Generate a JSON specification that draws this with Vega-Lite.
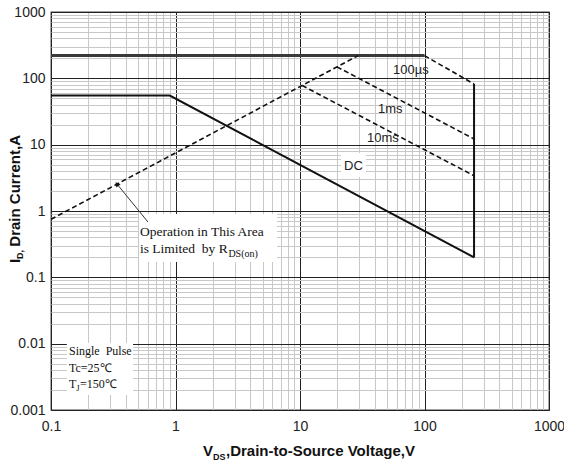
{
  "$schema": "https://vega.github.io/schema/vega-lite/v6.json",
  "width": 498,
  "height": 398,
  "autosize": {"type": "none"},
  "padding": {"left": 51, "top": 12, "right": 15, "bottom": 59},
  "background": "white",
  "config": {"view": {"stroke": "#444", "strokeWidth": 1.3}},
  "datasets": {
    "curves": [
      {"curve": "Current limit", "style": "limit", "v": 0.1, "i": 220},
      {"curve": "Current limit", "style": "limit", "v": 100, "i": 220},
      {"curve": "DC", "style": "solid", "v": 0.1, "i": 55},
      {"curve": "DC", "style": "solid", "v": 0.9, "i": 55},
      {"curve": "DC", "style": "solid", "v": 250, "i": 0.2},
      {"curve": "Voltage limit", "style": "solid", "v": 250, "i": 82},
      {"curve": "Voltage limit", "style": "solid", "v": 250, "i": 0.2},
      {"curve": "RDS(on)", "style": "dashed", "v": 0.1, "i": 0.75},
      {"curve": "RDS(on)", "style": "dashed", "v": 29.3, "i": 220},
      {"curve": "100µs", "style": "dashed", "v": 100, "i": 220},
      {"curve": "100µs", "style": "dashed", "v": 250, "i": 82},
      {"curve": "1ms", "style": "dashed", "v": 19.8, "i": 149},
      {"curve": "1ms", "style": "dashed", "v": 250, "i": 12.2},
      {"curve": "10ms", "style": "dashed", "v": 10.4, "i": 78},
      {"curve": "10ms", "style": "dashed", "v": 250, "i": 3.4}
    ],
    "boxes": [
      {"box": "note", "v": 0.509, "v2": 6.54, "i": 0.17, "i2": 0.901},
      {"box": "pulse", "v": 0.134, "v2": 0.456, "i": 0.00168, "i2": 0.01023},
      {"box": "DC", "v": 21.3, "v2": 33.9, "i": 3.25, "i2": 7.48}
    ],
    "arrow": [
      {"v": 0.601, "i": 0.682, "v2": 0.339, "i2": 2.55}
    ],
    "texts": [
      {"role": "curve", "text": "100µs", "v": 55.8, "i": 116},
      {"role": "curve", "text": "1ms", "v": 42.3, "i": 30.0},
      {"role": "curve", "text": "10ms", "v": 34.5, "i": 11.0},
      {"role": "curve", "text": "DC", "v": 22.6, "i": 4.15},
      {"role": "note", "text": "Operation in This Area", "v": 0.518, "i": 0.42},
      {"role": "note", "text": "is Limited\u00a0 by R", "v": 0.518, "i": 0.233},
      {"role": "noteSub", "text": "DS(on)", "v": 2.66, "i": 0.202},
      {"role": "pulse", "text": "Single\u00a0 Pulse", "v": 0.1395, "i": 0.00675},
      {"role": "pulse", "text": "Tc=25℃", "v": 0.1395, "i": 0.00374},
      {"role": "pulse", "text": "T", "v": 0.1395, "i": 0.00214},
      {"role": "pulseSub", "text": "J", "v": 0.1596, "i": 0.00193},
      {"role": "pulse", "text": "=150℃", "v": 0.171, "i": 0.00214},
      {"role": "xtitle", "text": "V", "v": 1.663, "i": 0.000202},
      {"role": "xtitleSub", "text": "DS", "v": 2.0, "i": 0.000176},
      {"role": "xtitle", "text": ",Drain-to-Source Voltage,V", "v": 2.545, "i": 0.000202},
      {"role": "ytitle", "text": "I", "v": 0.0564, "i": 0.164},
      {"role": "ytitleSub", "text": "D,", "v": 0.0596, "i": 0.189},
      {"role": "ytitle", "text": "Drain Current,A", "v": 0.0564, "i": 0.29}
    ]
  },
  "encoding": {
    "x": {
      "field": "v", "type": "quantitative",
      "scale": {"type": "log", "domain": [0.1, 1000], "nice": false},
      "axis": {
        "title": null,
        "values": [0.1,0.2,0.3,0.4,0.5,0.6,0.7,0.8,0.9,1,2,3,4,5,6,7,8,9,10,20,30,40,50,60,70,80,90,100,200,300,400,500,600,700,800,900,1000],
        "grid": true, "ticks": false, "domain": false,
        "gridColor": {"condition": {"test": "abs(log(datum.value)/LN10 - round(log(datum.value)/LN10)) < 0.001", "value": "#222"}, "value": "#c8c8c8"},
        "gridWidth": 1,
        "labelExpr": "abs(log(datum.value)/LN10 - round(log(datum.value)/LN10)) < 0.001 ? format(datum.value, '~g') : ''",
        "labelFont": "Liberation Sans", "labelFontSize": 14, "labelColor": "#222",
        "labelPadding": 9, "labelFlush": false, "labelOverlap": false
      }
    },
    "y": {
      "field": "i", "type": "quantitative",
      "scale": {"type": "log", "domain": [0.001, 1000], "nice": false},
      "axis": {
        "title": null,
        "values": [0.001,0.002,0.003,0.004,0.005,0.006,0.007,0.008,0.009,0.01,0.02,0.03,0.04,0.05,0.06,0.07,0.08,0.09,0.1,0.2,0.3,0.4,0.5,0.6,0.7,0.8,0.9,1,2,3,4,5,6,7,8,9,10,20,30,40,50,60,70,80,90,100,200,300,400,500,600,700,800,900,1000],
        "grid": true, "ticks": false, "domain": false,
        "gridColor": {"condition": {"test": "abs(log(datum.value)/LN10 - round(log(datum.value)/LN10)) < 0.001", "value": "#222"}, "value": "#c8c8c8"},
        "gridWidth": 1,
        "labelExpr": "abs(log(datum.value)/LN10 - round(log(datum.value)/LN10)) < 0.001 ? format(datum.value, '~g') : ''",
        "labelFont": "Liberation Sans", "labelFontSize": 14, "labelColor": "#222",
        "labelPadding": 6, "labelOverlap": false
      }
    }
  },
  "layer": [
    {
      "data": {"name": "boxes"},
      "mark": {"type": "rect", "fill": "white", "stroke": null},
      "encoding": {"x2": {"field": "v2"}, "y2": {"field": "i2"}}
    },
    {
      "data": {"name": "curves"},
      "transform": [{"filter": "datum.style === 'limit'"}],
      "mark": {"type": "line", "color": "#3a3a3a", "strokeWidth": 3},
      "encoding": {"detail": {"field": "curve"}}
    },
    {
      "data": {"name": "curves"},
      "transform": [{"filter": "datum.style === 'solid'"}],
      "mark": {"type": "line", "color": "#111", "strokeWidth": 2},
      "encoding": {"detail": {"field": "curve"}}
    },
    {
      "data": {"name": "curves"},
      "transform": [{"filter": "datum.style === 'dashed'"}],
      "mark": {"type": "line", "color": "#111", "strokeWidth": 1.6, "strokeDash": [5, 3]},
      "encoding": {"detail": {"field": "curve"}}
    },
    {
      "data": {"name": "arrow"},
      "mark": {"type": "rule", "color": "#333", "strokeWidth": 1},
      "encoding": {"x2": {"field": "v2"}, "y2": {"field": "i2"}}
    },
    {
      "data": {"name": "arrow"},
      "mark": {"type": "point", "shape": "triangle-up", "filled": true, "color": "#111", "size": 30, "angle": 321, "opacity": 1},
      "encoding": {"x": {"field": "v2", "type": "quantitative"}, "y": {"field": "i2", "type": "quantitative"}}
    },
    {
      "data": {"name": "texts"},
      "transform": [{"filter": "datum.role === 'curve'"}],
      "mark": {"type": "text", "align": "left", "baseline": "alphabetic", "font": "Liberation Sans", "fontSize": 13, "color": "#222"},
      "encoding": {"text": {"field": "text"}}
    },
    {
      "data": {"name": "texts"},
      "transform": [{"filter": "datum.role === 'note'"}],
      "mark": {"type": "text", "align": "left", "baseline": "alphabetic", "font": "Liberation Serif", "fontSize": 13.5, "color": "#111"},
      "encoding": {"text": {"field": "text"}}
    },
    {
      "data": {"name": "texts"},
      "transform": [{"filter": "datum.role === 'noteSub'"}],
      "mark": {"type": "text", "align": "left", "baseline": "alphabetic", "font": "Liberation Serif", "fontSize": 10, "color": "#111"},
      "encoding": {"text": {"field": "text"}}
    },
    {
      "data": {"name": "texts"},
      "transform": [{"filter": "datum.role === 'pulse'"}],
      "mark": {"type": "text", "align": "left", "baseline": "alphabetic", "font": "Liberation Serif", "fontSize": 12, "color": "#111"},
      "encoding": {"text": {"field": "text"}}
    },
    {
      "data": {"name": "texts"},
      "transform": [{"filter": "datum.role === 'pulseSub'"}],
      "mark": {"type": "text", "align": "left", "baseline": "alphabetic", "font": "Liberation Serif", "fontSize": 8.5, "color": "#111"},
      "encoding": {"text": {"field": "text"}}
    },
    {
      "data": {"name": "texts"},
      "transform": [{"filter": "datum.role === 'xtitle'"}],
      "mark": {"type": "text", "align": "left", "baseline": "alphabetic", "font": "Liberation Sans", "fontWeight": "bold", "fontSize": 15, "color": "#111"},
      "encoding": {"text": {"field": "text"}}
    },
    {
      "data": {"name": "texts"},
      "transform": [{"filter": "datum.role === 'xtitleSub'"}],
      "mark": {"type": "text", "align": "left", "baseline": "alphabetic", "font": "Liberation Sans", "fontWeight": "bold", "fontSize": 9, "color": "#111"},
      "encoding": {"text": {"field": "text"}}
    },
    {
      "data": {"name": "texts"},
      "transform": [{"filter": "datum.role === 'ytitle'"}],
      "mark": {"type": "text", "align": "left", "baseline": "alphabetic", "angle": 270, "font": "Liberation Sans", "fontWeight": "bold", "fontSize": 15, "color": "#111"},
      "encoding": {"text": {"field": "text"}}
    },
    {
      "data": {"name": "texts"},
      "transform": [{"filter": "datum.role === 'ytitleSub'"}],
      "mark": {"type": "text", "align": "left", "baseline": "alphabetic", "angle": 270, "font": "Liberation Sans", "fontWeight": "bold", "fontSize": 9, "color": "#111"},
      "encoding": {"text": {"field": "text"}}
    }
  ]
}
